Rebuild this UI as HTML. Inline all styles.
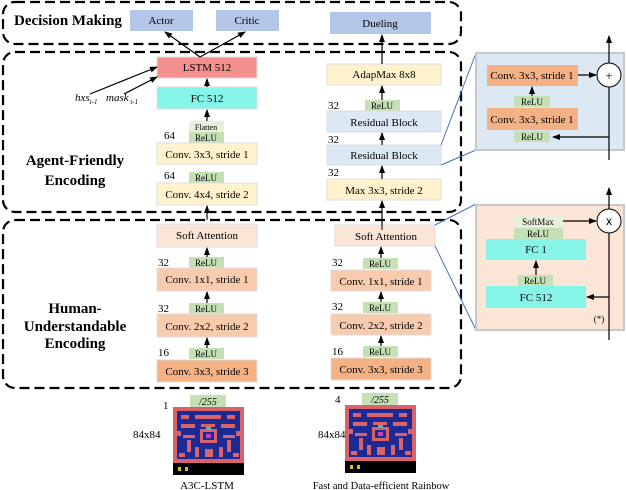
<!DOCTYPE html>
<html><head><style>
body{margin:0;background:#fff;}
svg{display:block;font-family:"Liberation Serif",serif;}
</style></head><body>
<svg width="626" height="490" viewBox="0 0 626 490" xmlns="http://www.w3.org/2000/svg">
<defs>
<marker id="a" markerWidth="8" markerHeight="8" refX="7" refY="4" orient="auto" markerUnits="userSpaceOnUse"><path d="M0,1 L8,4 L0,7 z" fill="#000"/></marker>
<g id="pac">
<rect x="0" y="0" width="71" height="68" fill="#000"/>
<rect x="0" y="0" width="71" height="56" fill="#d9636a"/>
<rect x="4" y="4" width="63" height="48" fill="#1e2a94"/>
<g fill="#d9636a">
<rect x="8" y="8" width="8" height="4"/><rect x="22" y="8" width="26" height="4"/><rect x="54" y="8" width="8" height="4"/>
<rect x="8" y="17" width="14" height="4"/><rect x="28" y="17" width="14" height="3"/><rect x="48" y="17" width="14" height="4"/>
<rect x="27" y="22" width="17" height="14"/><rect x="0" y="24" width="8" height="5"/><rect x="63" y="24" width="8" height="5"/>
<rect x="10" y="28" width="12" height="3"/><rect x="50" y="28" width="12" height="3"/>
<rect x="14" y="33" width="4" height="12"/><rect x="54" y="33" width="4" height="12"/>
<rect x="22" y="40" width="4" height="10"/><rect x="46" y="40" width="4" height="10"/>
<rect x="32" y="42" width="8" height="8"/><rect x="6" y="46" width="6" height="4"/><rect x="60" y="46" width="6" height="4"/>
</g>
<rect x="30" y="25" width="11" height="8" fill="#1e2a94"/><rect x="33" y="27" width="5" height="4" fill="#c040c0"/>
<rect x="33" y="20" width="5" height="3" fill="#40c0c0"/>
<rect x="5" y="60" width="3" height="4" fill="#d0c020"/><rect x="12" y="60" width="3" height="4" fill="#d0c020"/>
</g>
</defs>
<!-- dashed containers -->
<g fill="none" stroke="#000" stroke-width="2.2" stroke-dasharray="10,5">
<rect x="3" y="2" width="458" height="42" rx="12"/>
<rect x="3" y="52" width="458" height="160" rx="12"/>
<rect x="3" y="220" width="458" height="168" rx="12"/>
</g>
<g font-weight="bold" font-size="15" text-anchor="middle">
<text x="14" y="25" text-anchor="start">Decision Making</text>
<text x="75" y="165">Agent-Friendly</text><text x="75" y="185">Encoding</text>
<text x="75" y="313">Human-</text><text x="75" y="331">Understandable</text><text x="75" y="348">Encoding</text>
</g>
<!-- boxes -->
<g font-size="11" text-anchor="middle">
<rect x="130" y="10" width="63" height="21" fill="#b4c6e7"/><text x="161" y="24">Actor</text>
<rect x="216" y="10" width="63" height="21" fill="#b4c6e7"/><text x="247" y="24">Critic</text>
<rect x="330" y="12" width="101" height="22" fill="#b4c6e7"/><text x="380" y="27">Dueling</text>
<rect x="157" y="57" width="100" height="21" fill="#f4908e" stroke="#ddd"/><text x="207" y="71">LSTM 512</text>
<rect x="157" y="87" width="100" height="22" fill="#86f5e7" stroke="#ddd"/><text x="207" y="102">FC 512</text>
<rect x="189" y="121" width="35" height="11" fill="#e6f0dc"/><text x="206" y="130" font-size="8">Flatten</text>
<rect x="189" y="132" width="35" height="11" fill="#c5e0b4"/><text x="206" y="141" font-size="9">ReLU</text>
<rect x="157" y="143" width="100" height="21" fill="#fff2cc" stroke="#ddd"/><text x="207" y="158">Conv. 3x3, stride 1</text>
<rect x="189" y="172" width="35" height="11" fill="#c5e0b4"/><text x="206" y="181" font-size="9">ReLU</text>
<rect x="157" y="183" width="100" height="22" fill="#fff2cc" stroke="#ddd"/><text x="207" y="198">Conv. 4x4, stride 2</text>
<rect x="327" y="64" width="114" height="21" fill="#fff2cc" stroke="#ddd"/><text x="384" y="78">AdapMax 8x8</text>
<rect x="365" y="100" width="35" height="11" fill="#c5e0b4"/><text x="382" y="109" font-size="9">ReLU</text>
<rect x="327" y="111" width="114" height="21" fill="#dde8f5" stroke="#ddd"/><text x="384" y="126">Residual Block</text>
<rect x="327" y="145" width="114" height="20" fill="#dde8f5" stroke="#ddd"/><text x="384" y="159">Residual Block</text>
<rect x="327" y="179" width="114" height="21" fill="#fff2cc" stroke="#ddd"/><text x="384" y="194">Max 3x3, stride 2</text>
<!-- human left -->
<rect x="157" y="224" width="100" height="23" fill="#fbe5d6" stroke="#ddd"/><text x="207" y="239">Soft Attention</text>
<rect x="189" y="257" width="35" height="11" fill="#c5e0b4"/><text x="206" y="266" font-size="9">ReLU</text>
<rect x="157" y="268" width="100" height="23" fill="#f8cbad" stroke="#ddd"/><text x="207" y="283">Conv. 1x1, stride 1</text>
<rect x="189" y="303" width="35" height="11" fill="#c5e0b4"/><text x="206" y="312" font-size="9">ReLU</text>
<rect x="157" y="314" width="100" height="23" fill="#f8cbad" stroke="#ddd"/><text x="207" y="330">Conv. 2x2, stride 2</text>
<rect x="189" y="348" width="35" height="11" fill="#c5e0b4"/><text x="206" y="357" font-size="9">ReLU</text>
<rect x="157" y="360" width="100" height="22" fill="#f4b183" stroke="#ddd"/><text x="207" y="375">Conv. 3x3, stride 3</text>
<!-- human right -->
<rect x="335" y="225" width="100" height="21" fill="#fbe5d6" stroke="#ddd"/><text x="386" y="240">Soft Attention</text>
<rect x="363" y="258" width="35" height="11" fill="#c5e0b4"/><text x="380" y="267" font-size="9">ReLU</text>
<rect x="331" y="270" width="100" height="21" fill="#f8cbad" stroke="#ddd"/><text x="381" y="285">Conv. 1x1, stride 1</text>
<rect x="363" y="302" width="35" height="11" fill="#c5e0b4"/><text x="380" y="311" font-size="9">ReLU</text>
<rect x="331" y="314" width="100" height="21" fill="#f8cbad" stroke="#ddd"/><text x="381" y="329">Conv. 2x2, stride 2</text>
<rect x="363" y="346" width="35" height="11" fill="#c5e0b4"/><text x="380" y="355" font-size="9">ReLU</text>
<rect x="331" y="358" width="100" height="22" fill="#f4b183" stroke="#ddd"/><text x="381" y="373">Conv. 3x3, stride 3</text>
</g>
<!-- numbers -->
<g font-size="11">
<text x="164" y="139">64</text><text x="164" y="179">64</text>
<text x="328" y="109">32</text><text x="328" y="143">32</text><text x="328" y="176">32</text>
<text x="158" y="266">32</text><text x="158" y="312">32</text><text x="158" y="356">16</text>
<text x="332" y="266">32</text><text x="332" y="310">32</text><text x="332" y="355">16</text>
<text x="163" y="409">1</text><text x="335" y="403">4</text>
<text x="133" y="438">84x84</text><text x="318" y="438">84x84</text>
<text x="207" y="489" text-anchor="middle">A3C-LSTM</text>
<text x="381" y="489" text-anchor="middle" font-size="10.5">Fast and Data-efficient Rainbow</text>
<text x="75" y="101" font-style="italic">hxs<tspan font-size="7" dy="3">t-1</tspan></text>
<text x="106" y="101" font-style="italic">mask<tspan font-size="7" dy="3"> t-1</tspan></text>
</g>
<!-- images -->
<use href="#pac" x="173" y="407"/>
<use href="#pac" x="345" y="405"/>
<rect x="190" y="395" width="36" height="12" fill="#c5e0b4"/><text x="208" y="405" font-size="10" text-anchor="middle" font-style="italic">/255</text>
<rect x="362" y="393" width="36" height="12" fill="#c5e0b4"/><text x="380" y="403" font-size="10" text-anchor="middle" font-style="italic">/255</text>
<!-- arrows -->
<g stroke="#000" stroke-width="1.2" marker-end="url(#a)" fill="none">
<path d="M200,57 L165,32"/><path d="M200,57 L245,32"/>
<path d="M90,94 L157,67"/><path d="M124,94 L157,77"/>
<path d="M207,87 L207,79"/><path d="M207,121 L207,110"/>
<path d="M207,218 L207,206"/><path d="M207,257 L207,248"/>
<path d="M207,303 L207,292"/><path d="M207,348 L207,338"/>
<path d="M382,64 L382,35"/><path d="M382,100 L382,86"/>
<path d="M382,145 L382,133"/><path d="M382,179 L382,166"/>
<path d="M382,225 L382,201"/><path d="M381,258 L381,247"/>
<path d="M381,302 L381,292"/><path d="M381,346 L381,336"/>
</g>
<path d="M207,220 L207,212 M382,230 L382,225" stroke="#000"/>
<!-- blue zoom lines -->
<g stroke="#4472c4" stroke-width="1" fill="none">
<path d="M441,145 L476,53"/><path d="M441,165 L476,150"/>
<path d="M435,225 L476,204"/><path d="M435,246 L476,330"/>
</g>
<!-- residual panel -->
<rect x="476" y="53" width="148" height="97" fill="#dde8f5" stroke="#c8c8c8" stroke-width="2"/>
<g font-size="11" text-anchor="middle">
<rect x="487" y="65" width="91" height="21" fill="#f4b183"/><text x="532" y="79">Conv. 3x3, stride 1</text>
<rect x="514" y="96" width="36" height="11" fill="#c5e0b4"/><text x="532" y="105" font-size="9">ReLU</text>
<rect x="487" y="108" width="91" height="22" fill="#f4b183"/><text x="532" y="123">Conv. 3x3, stride 1</text>
<rect x="514" y="131" width="36" height="11" fill="#c5e0b4"/><text x="532" y="140" font-size="9">ReLU</text>
</g>
<!-- attention panel -->
<rect x="476" y="205" width="148" height="125" fill="#fbe5d6" stroke="#c8c8c8" stroke-width="2"/>
<g font-size="11" text-anchor="middle">
<rect x="514" y="216" width="49" height="11" fill="#e6f0dc"/><text x="538" y="225" font-size="9">SoftMax</text>
<rect x="514" y="228" width="49" height="11" fill="#c5e0b4"/><text x="538" y="237" font-size="9">ReLU</text>
<rect x="486" y="239" width="100" height="21" fill="#86f5e7"/><text x="536" y="253">FC 1</text>
<rect x="518" y="275" width="35" height="11" fill="#c5e0b4"/><text x="535" y="284" font-size="9">ReLU</text>
<rect x="486" y="286" width="100" height="22" fill="#86f5e7"/><text x="536" y="301">FC 512</text>
<text x="599" y="322" font-size="9">(*)</text>
</g>
<g stroke="#000" stroke-width="1.2" fill="none">
<path d="M609,160 L609,36" marker-end="url(#a)"/>
<path d="M609,340 L609,188" marker-end="url(#a)"/>
<path d="M578,75 L596,75" marker-end="url(#a)"/>
<path d="M609,137 L553,137" marker-end="url(#a)"/>
<path d="M532,96 L532,87" marker-end="url(#a)"/>
<path d="M563,221 L596,221" marker-end="url(#a)"/>
<path d="M609,297 L587,297" marker-end="url(#a)"/>
<path d="M536,275 L536,261" marker-end="url(#a)"/>
</g>
<circle cx="609" cy="75" r="12" fill="#fff" stroke="#000"/>
<text x="609" y="80" font-size="13" text-anchor="middle">+</text>
<circle cx="609" cy="221" r="12" fill="#fff" stroke="#000"/>
<text x="609" y="225" font-size="12" text-anchor="middle" font-family="Liberation Sans">x</text>
</svg>
</body></html>
